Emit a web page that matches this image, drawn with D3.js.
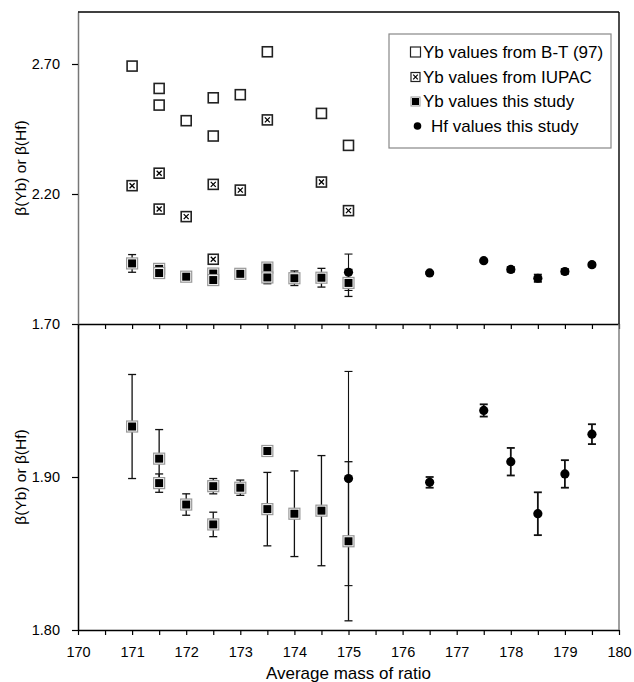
<!DOCTYPE html>
<html>
<head>
<meta charset="utf-8">
<script src="https://cdn.jsdelivr.net/npm/d3@7"></script>
<style>
  body { margin: 0; background: #fff; }
  svg text { font-family: "Liberation Sans", Arial, sans-serif; fill: #000; }
</style>
</head>
<body>
<div class="svg-container"></div>
<script>
// data
const massBT = [171, 171.5, 171.5, 172, 172.5, 172.5, 173, 173.5, 174.5, 175];
const betaBT = [2.692, 2.606, 2.542, 2.482, 2.570, 2.423, 2.582, 2.747, 2.510, 2.387];

const massIUPAC = [171, 171.5, 171.5, 172, 172.5, 172.5, 173, 173.5, 174.5, 175];
const betaIUPAC = [2.232, 2.280, 2.142, 2.113, 2.237, 1.949, 2.215, 2.485, 2.246, 2.136];

const massYb = [171, 171.5, 171.5, 172, 172.5, 172.5, 173, 173.5, 173.5, 174, 174.5, 175];
const betaYb = [1.933, 1.912, 1.896, 1.882, 1.894, 1.869, 1.893, 1.917, 1.879, 1.876, 1.878, 1.858];
const errYb = [0.034, 0.019, 0.006, 0.007, 0.005, 0.008, 0.005, 0.002, 0.024, 0.028, 0.036, 0.052];

const massHf = [175, 176.5, 177.5, 178, 178.5, 179, 179.5];
const betaHf = [1.899, 1.8965, 1.9435, 1.910, 1.876, 1.902, 1.928];
const errHf = [0.070, 0.0035, 0.004, 0.009, 0.014, 0.009, 0.0065];

const xTicks = d3.range(170, 180.01, 0.5);
const topTicks = [1.70, 2.20, 2.70];
const botTicks = [1.80, 1.90];
const legendLabels = ['Yb values from B-T (97)', 'Yb values from IUPAC', 'Yb values this study', 'Hf values this study'];

const width = 634;
const height = 682;
const left = 78, right = 619;
const topY0 = 12, midY = 324, botY = 630;

const svg = d3.select('.svg-container')
  .append('svg')
  .attr('width', width)
  .attr('height', height);

const x = d3.scaleLinear().domain([170, 180]).range([left, right]);
const yTop = d3.scaleLinear().domain([1.70, 2.90]).range([midY, topY0]);
const yBot = d3.scaleLinear().domain([1.80, 2.00]).range([botY, midY]);

const defs = svg.append('defs');
defs.append('clipPath').attr('id', 'clipTop')
  .append('rect').attr('x', left - 10).attr('y', topY0).attr('width', right - left + 20).attr('height', midY - topY0);
defs.append('clipPath').attr('id', 'clipBot')
  .append('rect').attr('x', left - 10).attr('y', midY).attr('width', right - left + 20).attr('height', botY - midY);

// marker helpers
function openSquare(g, cx, cy) {
  g.append('rect').attr('x', cx - 5).attr('y', cy - 5).attr('width', 10).attr('height', 10)
    .attr('fill', '#fff').attr('stroke', '#222').attr('stroke-width', 1.6);
}
function crossSquare(g, cx, cy) {
  g.append('rect').attr('x', cx - 5).attr('y', cy - 5).attr('width', 10).attr('height', 10)
    .attr('fill', '#fff').attr('stroke', '#222').attr('stroke-width', 1.6);
  g.append('path')
    .attr('d', `M${cx - 2.5},${cy - 2.5}L${cx + 2.5},${cy + 2.5}M${cx + 2.5},${cy - 2.5}L${cx - 2.5},${cy + 2.5}`)
    .attr('stroke', '#000').attr('stroke-width', 1.3);
}
function filledSquare(g, cx, cy) {
  g.append('rect').attr('x', cx - 5.5).attr('y', cy - 5.5).attr('width', 11).attr('height', 11)
    .attr('fill', '#fff').attr('stroke', '#999').attr('stroke-width', 1.2);
  g.append('rect').attr('x', cx - 4).attr('y', cy - 4).attr('width', 8).attr('height', 8)
    .attr('fill', '#000');
}
function dot(g, cx, cy) {
  g.append('circle').attr('cx', cx).attr('cy', cy).attr('r', 4.6).attr('fill', '#000');
}
function errBar(g, cx, y, v, e, w) {
  const y1 = y(v + e), y2 = y(v - e);
  g.append('line').attr('x1', cx).attr('x2', cx).attr('y1', y1).attr('y2', y2)
    .attr('stroke', '#111').attr('stroke-width', w);
  [y1, y2].forEach(yy => g.append('line').attr('x1', cx - 4).attr('x2', cx + 4).attr('y1', yy).attr('y2', yy)
    .attr('stroke', '#111').attr('stroke-width', w));
}

function drawPanel(y, clipId, withRefs) {
  const g = svg.append('g').attr('clip-path', `url(#${clipId})`);
  if (withRefs) {
    massBT.forEach((m, i) => openSquare(g, x(m), y(betaBT[i])));
    massIUPAC.forEach((m, i) => crossSquare(g, x(m), y(betaIUPAC[i])));
  }
  massYb.forEach((m, i) => errBar(g, x(m), y, betaYb[i], errYb[i], 1.3));
  massHf.forEach((m, i) => errBar(g, x(m), y, betaHf[i], errHf[i], m === 175 ? 1.1 : 1.8));
  massYb.forEach((m, i) => filledSquare(g, x(m), y(betaYb[i])));
  massHf.forEach((m, i) => dot(g, x(m), y(betaHf[i])));
}

drawPanel(yTop, 'clipTop', true);
drawPanel(yBot, 'clipBot', false);

// axes
const axTopX = svg.append('g').attr('transform', `translate(0,${midY})`)
  .call(d3.axisBottom(x).tickValues(xTicks).tickFormat('').tickSize(5).tickSizeOuter(0));
const axBotX = svg.append('g').attr('transform', `translate(0,${botY})`)
  .call(d3.axisBottom(x).tickValues(xTicks).tickSize(5).tickSizeOuter(0).tickPadding(12)
    .tickFormat(d => Number.isInteger(d) ? d : ''));
const axTopY = svg.append('g').attr('transform', `translate(${left},0)`)
  .call(d3.axisLeft(yTop).tickValues(topTicks).tickFormat(d3.format('.2f')).tickSize(6).tickSizeOuter(0).tickPadding(12));
const axBotY = svg.append('g').attr('transform', `translate(${left},0)`)
  .call(d3.axisLeft(yBot).tickValues(botTicks).tickFormat(d3.format('.2f')).tickSize(6).tickSizeOuter(0).tickPadding(12));

[axTopX, axBotX, axTopY, axBotY].forEach(a => {
  a.selectAll('text').attr('font-size', 14.5).attr('font-family', '"Liberation Sans", Arial, sans-serif').attr('fill', '#000');
  a.selectAll('line').attr('stroke', '#000').attr('stroke-width', 1.2);
  a.select('.domain').attr('stroke', '#000').attr('stroke-width', 1.5);
});
axTopY.select('.domain').attr('stroke', '#777');

// frame
svg.append('line').attr('x1', left).attr('x2', right).attr('y1', topY0).attr('y2', topY0)
  .attr('stroke', '#000').attr('stroke-width', 1.4);
svg.append('line').attr('x1', right).attr('x2', right).attr('y1', topY0).attr('y2', midY)
  .attr('stroke', '#000').attr('stroke-width', 1.4);
svg.append('line').attr('x1', right).attr('x2', right).attr('y1', midY).attr('y2', botY)
  .attr('stroke', '#777').attr('stroke-width', 1.4);

// axis titles
svg.append('text').attr('x', (left + right) / 2).attr('y', 679).attr('text-anchor', 'middle')
  .attr('font-size', 17).text('Average mass of ratio');
[(topY0 + midY) / 2, (midY + botY) / 2].forEach(cy => {
  svg.append('text').attr('transform', `translate(26,${cy}) rotate(-90)`).attr('text-anchor', 'middle')
    .attr('font-size', 15.5).text('β(Yb) or β(Hf)');
});

// legend
const lg = svg.append('g');
lg.append('rect').attr('x', 389).attr('y', 34).attr('width', 222).attr('height', 114)
  .attr('fill', '#fff').attr('stroke', '#888').attr('stroke-width', 1.2);
const rowY = [52, 77, 101.5, 126];
const legendMarkers = [
  (cx, cy) => lg.append('rect').attr('x', cx - 5).attr('y', cy - 5).attr('width', 10).attr('height', 10)
    .attr('fill', '#fff').attr('stroke', '#222').attr('stroke-width', 1.2),
  (cx, cy) => {
    lg.append('rect').attr('x', cx - 4.5).attr('y', cy - 4.5).attr('width', 9).attr('height', 9)
      .attr('fill', '#fff').attr('stroke', '#222').attr('stroke-width', 1.2);
    lg.append('path').attr('d', `M${cx - 2.3},${cy - 2.3}L${cx + 2.3},${cy + 2.3}M${cx + 2.3},${cy - 2.3}L${cx - 2.3},${cy + 2.3}`)
      .attr('stroke', '#000').attr('stroke-width', 1.2);
  },
  (cx, cy) => {
    lg.append('rect').attr('x', cx - 4.5).attr('y', cy - 4.5).attr('width', 9).attr('height', 9)
      .attr('fill', '#fff').attr('stroke', '#999').attr('stroke-width', 1);
    lg.append('rect').attr('x', cx - 3.5).attr('y', cy - 3.5).attr('width', 7).attr('height', 7).attr('fill', '#000');
  },
  (cx, cy) => lg.append('circle').attr('cx', cx + 2).attr('cy', cy).attr('r', 3.8).attr('fill', '#000')
];
legendLabels.forEach((t, i) => {
  legendMarkers[i](415.5, rowY[i]);
  lg.append('text').attr('x', i === 3 ? 431 : 423).attr('y', rowY[i]).attr('dy', '0.35em')
    .attr('font-size', 17).text(t);
});
</script>
</body>
</html>
